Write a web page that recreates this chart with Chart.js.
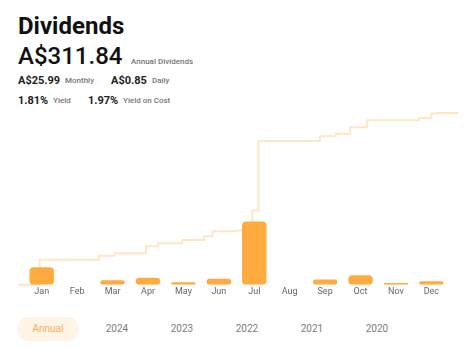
<!DOCTYPE html>
<html>
<head>
<meta charset="utf-8">
<script src="https://cdn.jsdelivr.net/npm/chart.js@4"></script>
<style>
  body { margin: 0; width: 469px; height: 348px; background: #fff; font-family: Roboto, sans-serif; position: relative; overflow: hidden; }
  .t { position: absolute; line-height: 1; white-space: nowrap; }
  .big { font-size: 24px; color: #111; }
  .val { font-size: 11px; font-weight: 700; color: #222; }
  .lbl { font-size: 8px; font-weight: 500; color: #777; }
  .tab { position: absolute; top: 317px; height: 24px; line-height: 24px; font-size: 10px; color: #7d7d7d; text-align: center; width: 50px; }
  .tab.on { left: 17px; width: 62px; border-radius: 12px; background: #fff4e6; color: #f8ad58; }
  #wrap { position: absolute; left: 0; top: 100px; }
</style>
</head>
<body>
<div class="t big" style="left:18px;top:14px;font-weight:700">Dividends</div>
<div class="t big" style="left:18px;top:44px;font-weight:500">A$311.84</div>
<div class="t lbl" style="left:131px;top:58px">Annual Dividends</div>

<div class="t val" style="left:18px;top:75px">A$25.99</div>
<div class="t lbl" style="left:65px;top:77px">Monthly</div>
<div class="t val" style="left:111px;top:75px">A$0.85</div>
<div class="t lbl" style="left:152px;top:77px">Daily</div>

<div class="t val" style="left:18px;top:95px">1.81%</div>
<div class="t lbl" style="left:53px;top:97px">Yield</div>
<div class="t val" style="left:88px;top:95px">1.97%</div>
<div class="t lbl" style="left:123px;top:97px">Yield on Cost</div>

<div id="wrap"><canvas id="chart" width="469" height="200"></canvas></div>

<div class="tab on">Annual</div>
<div class="tab" style="left:92px">2024</div>
<div class="tab" style="left:157px">2023</div>
<div class="tab" style="left:222px">2022</div>
<div class="tab" style="left:287px">2021</div>
<div class="tab" style="left:352px">2020</div>

<script>
const months = ['Jan', 'Feb', 'Mar', 'Apr', 'May', 'Jun', 'Jul', 'Aug', 'Sep', 'Oct', 'Nov', 'Dec'];
const monthStart = [0, 31, 59, 90, 120, 151, 181, 212, 243, 273, 304, 334];

// individual payments (month-day) and amounts in A$
const payDates = ['01-19', '03-09', '03-22', '04-17', '04-27', '05-17', '06-04', '06-11', '07-01',
    '07-14', '07-19', '09-08', '09-21', '10-03', '10-17', '11-29', '12-09', '12-14'];
const payAmounts = [45.5, 7.3, 4.2, 12.7, 5.5, 6.2, 6.6, 9.1, 1.3,
    36.4, 126.04, 8.6, 4.9, 11.5, 12.7, 4.2, 8.0, 1.1];

const monthTotals = months.map(() => 0);
const cumulative = [{ x: 0, y: 0 }];
let running = 0;
payDates.forEach((d, i) => {
    const m = parseInt(d.slice(0, 2)) - 1;
    const day = parseInt(d.slice(3)) - 1;
    monthTotals[m] += payAmounts[i];
    running += payAmounts[i];
    cumulative.push({ x: monthStart[m] + day, y: running });
});
cumulative.push({ x: 365, y: running });

Chart.defaults.font.family = 'Roboto';

new Chart(document.querySelector('#chart'), {
    type: 'line',
    data: {
        datasets: [{
            type: 'bar',
            data: monthTotals.map((v, i) => ({ x: i, y: v })),
            backgroundColor: '#ffab40',
            borderRadius: 4,
            borderSkipped: false,
            grouped: false,
            barPercentage: 0.69,
            categoryPercentage: 1,
            xAxisID: 'x',
            yAxisID: 'y',
            order: 1
        }, {
            type: 'line',
            data: cumulative,
            borderColor: 'rgba(255, 171, 64, 0.3)',
            borderWidth: 2,
            pointRadius: 0,
            stepped: true,
            clip: false,
            xAxisID: 'xd',
            yAxisID: 'y1',
            order: 2
        }]
    },
    options: {
        responsive: false,
        animation: false,
        layout: { padding: { left: 18, right: 10, top: 13, bottom: 0.5 } },
        plugins: { legend: { display: false }, tooltip: { enabled: false } },
        scales: {
            x: {
                type: 'linear',
                min: -0.67,
                max: 11.78,
                offset: false,
                grid: { display: false, drawTicks: false },
                border: { display: false },
                afterBuildTicks: axis => { axis.ticks = months.map((m, i) => ({ value: i })); },
                ticks: {
                    autoSkip: false,
                    maxRotation: 0,
                    padding: 2,
                    color: '#666',
                    font: { size: 9 },
                    callback: v => months[v]
                }
            },
            xd: { type: 'linear', min: 0, max: 365, offset: false, display: false },
            y: { min: 0, max: 445, display: false },
            y1: { min: 0, max: 311.84, display: false }
        }
    }
});
</script>
</body>
</html>
